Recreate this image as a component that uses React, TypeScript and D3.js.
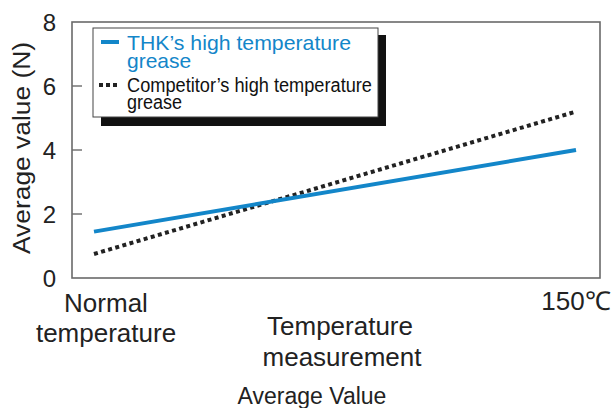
import React from "react";
import * as d3 from "d3";

const categories = ["Normal temperature", "150℃"];
const categoryLines = [["Normal", "temperature"], ["150℃"]];
const thkValues = [1.45, 4.0];
const competitorValues = [0.75, 5.2];
const yTickValues = [0, 2, 4, 6, 8];
const yTickMarks = [2, 4, 6];
const seriesNames = ["THK’s high temperature", "grease", "Competitor’s high temperature", "grease"];

const W = 613;
const H = 408;
const frame = { left: 72, right: 600, top: 22, bottom: 278 };
const FONT = "'Liberation Sans', Arial, Helvetica, sans-serif";
const BLUE = "#1386c9";

export default function App() {
  const x = d3.scalePoint<string>().domain(categories).range([94, 576]);
  const y = d3.scaleLinear().domain([0, 8]).range([frame.bottom, frame.top]);
  const line = d3
    .line<number>()
    .x((_, i) => x(categories[i]) as number)
    .y((d) => y(d));

  const labelOffsets = [12, 0];

  return (
    <svg
      width={W}
      height={H}
      style={{ position: "absolute", left: 0, top: 0, background: "#fff" }}
      fontFamily={FONT}
    >
      <rect x={0} y={0} width={W} height={H} fill="#fff" />
      {/* frame */}
      <rect
        x={frame.left}
        y={frame.top}
        width={frame.right - frame.left}
        height={frame.bottom - frame.top}
        fill="none"
        stroke="#6a6a6a"
        strokeWidth={1.6}
      />
      {yTickMarks.map((t) => (
        <line key={t} x1={frame.left} x2={frame.left + 10} y1={y(t)} y2={y(t)} stroke="#6a6a6a" strokeWidth={1.4} />
      ))}
      {yTickValues.map((t) => (
        <text key={t} x={56} y={y(t)} dy="0.36em" textAnchor="end" fontSize={24} fill="#222">
          {t}
        </text>
      ))}
      {/* y title */}
      <text
        transform={`translate(30,148) rotate(-90)`}
        textAnchor="middle"
        fontSize={23}
        fill="#222"
        textLength={212}
        lengthAdjust="spacingAndGlyphs"
      >
        Average value (N)
      </text>

      {/* lines */}
      <path d={line(competitorValues) || ""} fill="none" stroke="#222" strokeWidth={4} strokeDasharray="4 3.4" />
      <path d={line(thkValues) || ""} fill="none" stroke={BLUE} strokeWidth={4} />

      {/* legend */}
      <rect x={101} y={35} width={285} height={91} fill="#111" />
      <rect x={93} y={28} width={285} height={89} fill="#fff" stroke="#444" strokeWidth={1} />
      <line x1={101} x2={119} y1={42} y2={42} stroke={BLUE} strokeWidth={4} />
      <line x1={99} x2={118} y1={85} y2={85} stroke="#222" strokeWidth={4} strokeDasharray="4 3" />
      <text x={127} y={50} fontSize={21} fill={BLUE} textLength={224} lengthAdjust="spacingAndGlyphs">
        {seriesNames[0]}
      </text>
      <text x={127} y={68} fontSize={21} fill={BLUE}>
        {seriesNames[1]}
      </text>
      <text x={127} y={92} fontSize={20} fill="#111" textLength={245} lengthAdjust="spacingAndGlyphs">
        {seriesNames[2]}
      </text>
      <text x={127} y={109} fontSize={20} fill="#111" textLength={55} lengthAdjust="spacingAndGlyphs">
        {seriesNames[3]}
      </text>

      {/* x tick labels */}
      {categories.map((c, i) => (
        <text
          key={c}
          x={(x(c) as number) + labelOffsets[i]}
          y={i === 0 ? 312 : 310}
          textAnchor="middle"
          fontSize={26}
          fill="#222"
        >
          {categoryLines[i].map((ln, j) => (
            <tspan key={j} x={(x(c) as number) + labelOffsets[i]} dy={j === 0 ? 0 : 30}>
              {ln}
            </tspan>
          ))}
        </text>
      ))}

      {/* x title */}
      <text x={340} y={335} textAnchor="middle" fontSize={26} fill="#222">
        <tspan x={340} dy={0}>Temperature</tspan>
        <tspan x={342} dy={31}>measurement</tspan>
      </text>
      <text x={312} y={404} textAnchor="middle" fontSize={23} fill="#222">
        Average Value
      </text>
    </svg>
  );
}
